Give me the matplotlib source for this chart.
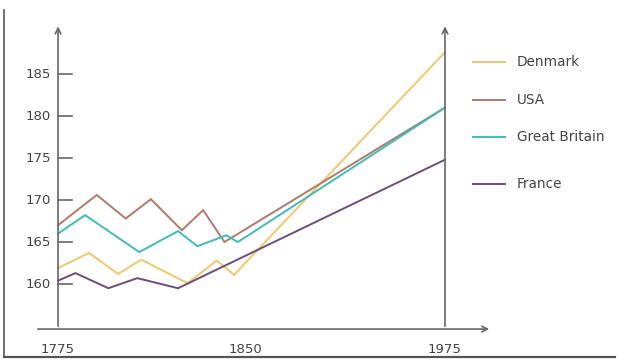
import matplotlib
matplotlib.use('Agg')
import matplotlib.pyplot as plt

# Average height (cm)
countries = ['Denmark', 'USA', 'Great Britain', 'France']
colors = ['#f0c76a', '#b07a66', '#3cbcba', '#6e4c7c']

denmark_years = [1775, 1791, 1806, 1818, 1842, 1857, 1866, 1975]
denmark_height = [161.9, 163.7, 161.2, 162.9, 160.1, 162.8, 161.1, 187.6]

usa_years = [1775, 1795, 1810, 1823, 1839, 1850, 1861, 1975]
usa_height = [167.0, 170.6, 167.8, 170.1, 166.4, 168.8, 165.0, 181.0]

gb_years = [1775, 1789, 1817, 1837, 1847, 1862, 1868, 1975]
gb_height = [166.0, 168.2, 163.8, 166.3, 164.5, 165.8, 165.0, 181.0]

france_years = [1775, 1784, 1801, 1816, 1837, 1975]
france_height = [160.4, 161.3, 159.5, 160.7, 159.5, 174.8]

y_ticks = [160, 165, 170, 175, 180, 185]
x_tick_labels = ['1775', '1850', '1975']
x_tick_pos = [1775, 1872, 1975]   # the original spaces these unevenly

series = [(denmark_years, denmark_height), (usa_years, usa_height),
          (gb_years, gb_height), (france_years, france_height)]

fig = plt.figure(figsize=(6.17, 3.64), dpi=100)
ax = fig.add_axes([0, 0, 1, 1])
ax.set_xlim(1745.0, 2063.9)
ax.set_ylim(150.48, 193.81)
ax.axis('off')

axis_col = '#666666'
text_col = '#444444'
y_base = 154.64
y_top = 191.0

# main axes with arrows
ax.annotate('', xy=(1775, y_top), xytext=(1775, y_base),
            arrowprops=dict(arrowstyle='->', color=axis_col, lw=1.2))
ax.annotate('', xy=(1975, y_top), xytext=(1975, y_base),
            arrowprops=dict(arrowstyle='->', color=axis_col, lw=1.2))
ax.annotate('', xy=(1999.3, y_base), xytext=(1763.1, y_base),
            arrowprops=dict(arrowstyle='->', color=axis_col, lw=1.2))

# y ticks point inward
for v in y_ticks:
    ax.plot([1775, 1782.2], [v, v], color=axis_col, lw=1.2)
    ax.text(1771.4, v, str(v), ha='right', va='center', fontsize=9.5, color=text_col)

for pos, lab in zip(x_tick_pos, x_tick_labels):
    ax.text(pos, 152.2, lab, ha='center', va='center', fontsize=9.5, color=text_col)

for (xs, ys), c in zip(series, colors):
    ax.plot(xs, ys, color=c, lw=1.4, solid_joinstyle='miter')

# legend drawn by hand to match the uneven row spacing
legend_rows = [62, 100, 137, 184]
for name, c, row in zip(countries, colors, legend_rows):
    yf = 1 - row / 364
    ax.plot([473 / 617, 505 / 617], [yf, yf], color=c, lw=1.4, transform=ax.transAxes)
    ax.text(517 / 617, yf, name, ha='left', va='center', fontsize=9.8,
            color=text_col, transform=ax.transAxes)

# outer frame (left and bottom)
ax.plot([4 / 617, 4 / 617], [1 - 10 / 364, 1 - 357 / 364], color='#555555', lw=1.2,
        transform=ax.transAxes)
ax.plot([4 / 617, 615 / 617], [1 - 357 / 364, 1 - 357 / 364], color='#555555', lw=1.6,
        transform=ax.transAxes)

fig.savefig('out.png', dpi=100)
